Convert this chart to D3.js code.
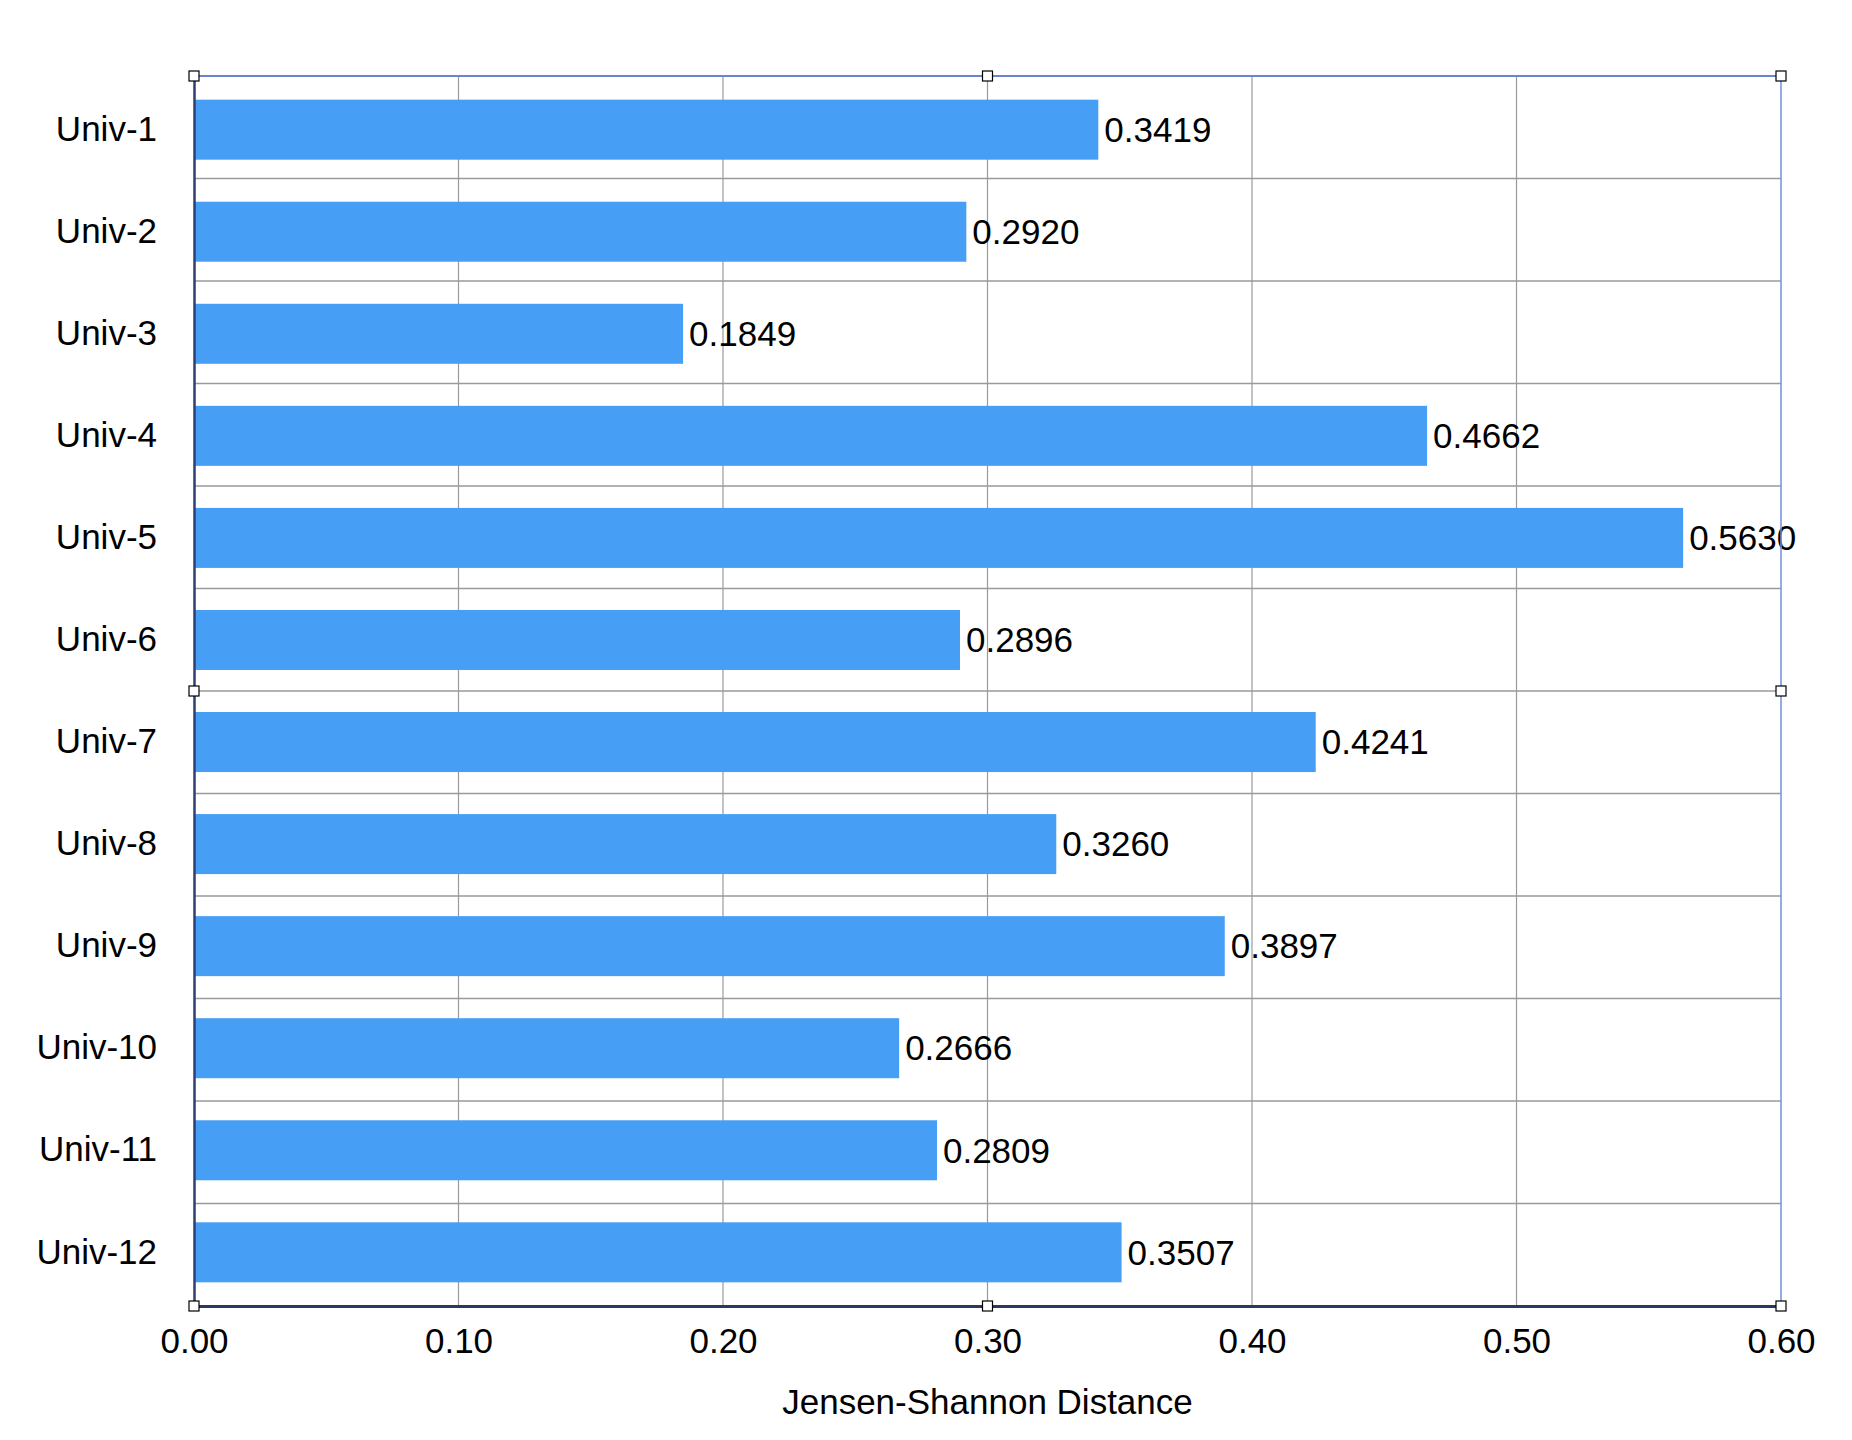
<!DOCTYPE html>
<html>
<head>
<meta charset="utf-8">
<script src="https://cdn.jsdelivr.net/npm/d3@7"></script>
<style>
  body { margin: 0; background: #fff; }
  text { font-family: "Liberation Sans", Arial, Helvetica, sans-serif; }
</style>
</head>
<body>
<svg width="1852" height="1440"></svg>
<script>
// Data
const universities = ["Univ-1", "Univ-2", "Univ-3", "Univ-4", "Univ-5", "Univ-6",
                      "Univ-7", "Univ-8", "Univ-9", "Univ-10", "Univ-11", "Univ-12"];
const distances = [0.3419, 0.2920, 0.1849, 0.4662, 0.5630, 0.2896,
                   0.4241, 0.3260, 0.3897, 0.2666, 0.2809, 0.3507];
const xTicks = [0, 0.1, 0.2, 0.3, 0.4, 0.5, 0.6];
const xTitle = "Jensen-Shannon Distance";

const data = universities.map((u, i) => ({ name: u, value: distances[i] }));

// Layout
const width = 1852, height = 1440;
const margin = { top: 76, right: 71, bottom: 134, left: 194 };
const svg = d3.select("svg");

// Scales
const xScale = d3.scaleLinear()
    .domain([0, 0.6])
    .range([margin.left, width - margin.right]);

const yScale = d3.scaleBand()
    .domain(universities)
    .range([margin.top, height - margin.bottom])
    .paddingInner(0.412)
    .paddingOuter(0.232);

const x0 = xScale(0), x1 = xScale(0.6);
const y0 = margin.top, y1 = height - margin.bottom;
const rowStep = (y1 - y0) / universities.length;

// row boundary i (0 = top of plot)
const boundary = i => y0 + i * rowStep;

// Vertical gridlines
svg.append("g")
    .selectAll("line")
    .data(xTicks.slice(1, -1))
    .enter()
    .append("line")
    .attr("x1", d => xScale(d))
    .attr("x2", d => xScale(d))
    .attr("y1", y0)
    .attr("y2", y1)
    .attr("stroke", "#9a9a9a")
    .attr("stroke-width", 1.2);

// Horizontal gridlines between rows
svg.append("g")
    .selectAll("line")
    .data(d3.range(1, universities.length))
    .enter()
    .append("line")
    .attr("x1", x0)
    .attr("x2", x1)
    .attr("y1", d => boundary(d))
    .attr("y2", d => boundary(d))
    .attr("stroke", "#9a9a9a")
    .attr("stroke-width", 1.5);

// Bars
svg.append("g")
    .selectAll("rect")
    .data(data)
    .enter()
    .append("rect")
    .attr("x", x0)
    .attr("y", d => yScale(d.name))
    .attr("width", d => xScale(d.value) - x0)
    .attr("height", yScale.bandwidth())
    .attr("fill", "#479ff5");

// Value labels
svg.append("g")
    .selectAll("text")
    .data(data)
    .enter()
    .append("text")
    .attr("x", d => xScale(d.value) + 6)
    .attr("y", d => yScale(d.name) + yScale.bandwidth() / 2)
    .attr("dy", "0.35em")
    .attr("font-size", 35)
    .attr("fill", "#000")
    .text(d => d3.format(".4f")(d.value));

// Top and right frame (selection border)
svg.append("line")
    .attr("x1", x0).attr("x2", x1).attr("y1", y0).attr("y2", y0)
    .attr("stroke", "#6b84cf").attr("stroke-width", 2);
svg.append("line")
    .attr("x1", x1).attr("x2", x1).attr("y1", y0).attr("y2", y1)
    .attr("stroke", "#7090dc").attr("stroke-width", 1.5);

// Axes
const xAxis = svg.append("g")
    .attr("transform", `translate(0, ${y1})`)
    .call(d3.axisBottom(xScale).tickValues(xTicks).tickFormat(d3.format(".2f"))
        .tickSize(0).tickPadding(22));
xAxis.select(".domain").attr("stroke", "#2b3760").attr("stroke-width", 3);
xAxis.selectAll("text").attr("font-size", 35).attr("fill", "#000")
    .style("font-family", "'Liberation Sans', Arial, sans-serif");

const yAxis = svg.append("g")
    .attr("transform", `translate(${x0}, 0)`)
    .call(d3.axisLeft(yScale).tickSize(0).tickPadding(37));
yAxis.select(".domain").attr("stroke", "#2e3f73").attr("stroke-width", 2.5);
yAxis.selectAll("text").attr("font-size", 35).attr("fill", "#000")
    .style("font-family", "'Liberation Sans', Arial, sans-serif");

// Axis title
svg.append("text")
    .attr("x", (x0 + x1) / 2)
    .attr("y", 1414)
    .attr("text-anchor", "middle")
    .attr("font-size", 35)
    .attr("fill", "#000")
    .text(xTitle);

// Selection handles
const midY = boundary(6);
const handles = [
    [x0, y0], [(x0 + x1) / 2, y0], [x1, y0],
    [x0, midY], [x1, midY],
    [x0, y1], [(x0 + x1) / 2, y1], [x1, y1]
];
svg.append("g")
    .selectAll("rect")
    .data(handles)
    .enter()
    .append("rect")
    .attr("x", d => d[0] - 5)
    .attr("y", d => d[1] - 5)
    .attr("width", 10)
    .attr("height", 10)
    .attr("fill", "#fff")
    .attr("stroke", "#000")
    .attr("stroke-width", 1.2);
</script>
</body>
</html>
